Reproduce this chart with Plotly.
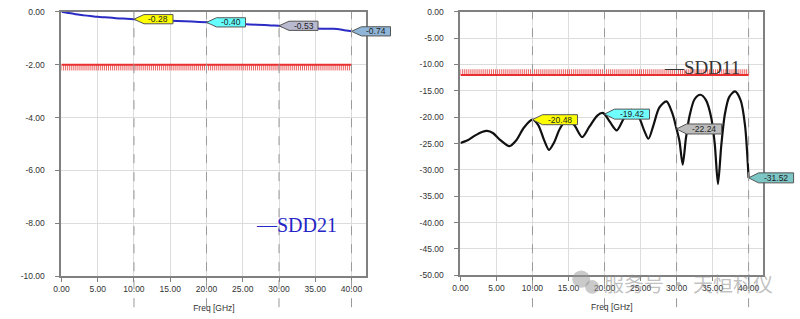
import plotly.graph_objects as go

# ---------------- data ----------------
freq21 = [0, 1, 2, 3, 4, 5, 6, 7, 8, 9, 10, 12, 14, 16, 18, 20, 22, 24, 26, 28, 29, 30, 31, 32, 34, 36, 37.5, 38.5, 39.3, 40]
sdd21 = [0.0, -0.05, -0.09, -0.13, -0.16, -0.19, -0.21, -0.23, -0.25, -0.265, -0.28, -0.31, -0.33, -0.35, -0.37, -0.40,
         -0.42, -0.45, -0.48, -0.50, -0.52, -0.53, -0.58, -0.61, -0.63, -0.64, -0.645, -0.67, -0.71, -0.74]

freq11 = [0, 1, 2, 3, 3.7, 4.5, 5.5, 6.8, 7.8, 8.8, 10.0, 10.8, 11.6, 12.3, 13.0, 13.8, 14.8, 15.8, 16.9, 17.9,
          19.0, 19.7, 20.0, 20.8, 21.7, 22.7, 23.7, 24.7, 25.5, 26.1, 26.8, 27.6, 28.6, 29.4, 30.0, 30.4, 30.85,
          31.3, 31.8, 32.5, 33.3, 34.1, 34.8, 35.3, 35.75, 36.2, 36.7, 37.3, 38.1, 38.9, 39.5, 40.0]
sdd11 = [-24.9, -24.4, -23.5, -22.8, -22.6, -23.0, -24.3, -25.5, -24.3, -22.0, -20.48, -21.5, -24.3, -26.2, -24.8,
         -22.2, -20.4, -21.5, -23.8, -21.8, -19.7, -19.2, -19.42, -21.0, -22.5, -20.2, -18.6, -19.8, -22.5, -24.1,
         -21.5, -18.2, -17.0, -19.2, -22.24, -24.5, -29.0, -24.0, -19.8, -16.6, -15.75, -16.8, -20.0, -25.0, -32.7,
         -25.5, -19.5, -16.2, -15.1, -16.8, -21.5, -31.52]

mk_freq = [10, 20, 30, 40]
mk21 = [-0.28, -0.40, -0.53, -0.74]
mk11 = [-20.48, -19.42, -22.24, -31.52]
mk21_colors = ['#ffff00', '#66ffff', '#b9b9cf', '#8fb6d8']
mk11_colors = ['#ffff00', '#70ffff', '#bcbcbc', '#7cc6c6']

limit_freq = [0, 40]
limit21 = -2.0
limit11 = -12.0
hatch_step = 0.27

x_range = [0, 42.05]
y21_range = [-10, 0]
y11_range = [-50, 0]
x_ticks = [0, 5, 10, 15, 20, 25, 30, 35, 40]
x_ticktext = ['0.00', '5.00', '10.00', '15.00', '20.00', '25.00', '30.00', '35.00', '40.00']
y21_ticks = [0, -2, -4, -6, -8, -10]
y21_ticktext = ['0.00', '-2.00', '-4.00', '-6.00', '-8.00', '-10.00']
y11_ticks = [0, -5, -10, -15, -20, -25, -30, -35, -40, -45, -50]
y11_ticktext = ['0.00', '-5.00', '-10.00', '-15.00', '-20.00', '-25.00', '-30.00', '-35.00', '-40.00', '-45.00', '-50.00']

W, H = 800, 319
fig = go.Figure()

# ---------------- limit masks with hatch ----------------
def hatch(x0, x1, y0, y1):
    xs, ys = [], []
    n = int(round((x1 - x0) / hatch_step))
    for i in range(n + 1):
        xv = x0 + i * (x1 - x0) / n
        xs += [xv, xv, None]
        ys += [y0, y1, None]
    return xs, ys

hx, hy = hatch(limit_freq[0], limit_freq[1], limit21, limit21 - 0.22)
fig.add_trace(go.Scatter(x=hx, y=hy, mode='lines', line=dict(color='rgba(230,50,50,0.75)', width=1),
                         xaxis='x', yaxis='y', hoverinfo='skip', showlegend=False))
fig.add_trace(go.Scatter(x=limit_freq, y=[limit21, limit21], mode='lines', line=dict(color='#e83030', width=2),
                         xaxis='x', yaxis='y', showlegend=False))
hx, hy = hatch(limit_freq[0], limit_freq[1], limit11, limit11 + 1.1)
fig.add_trace(go.Scatter(x=hx, y=hy, mode='lines', line=dict(color='rgba(230,50,50,0.75)', width=1),
                         xaxis='x2', yaxis='y2', hoverinfo='skip', showlegend=False))
fig.add_trace(go.Scatter(x=limit_freq, y=[limit11, limit11], mode='lines', line=dict(color='#e83030', width=2),
                         xaxis='x2', yaxis='y2', showlegend=False))

# ---------------- curves ----------------
fig.add_trace(go.Scatter(x=freq21, y=sdd21, mode='lines', line=dict(color='#2a2ac4', width=2, shape='spline', smoothing=0.6),
                         xaxis='x', yaxis='y', showlegend=False))
fig.add_trace(go.Scatter(x=freq11, y=sdd11, mode='lines', line=dict(color='#111111', width=2.2, shape='spline', smoothing=0.8),
                         xaxis='x2', yaxis='y2', showlegend=False))

# ---------------- marker tags ----------------
shapes = []
annotations = []

def tag(axname, xv, yv, yr, label, color, bw, hh, fs):
    path = f"M0,0 L10,{hh} L{10 + bw},{hh} L{10 + bw},{-hh} L10,{-hh} Z"
    shapes.append(dict(type='path', xref=f'{axname[0]} domain', yref=f'{axname[1]} domain',
                       xsizemode='pixel', ysizemode='pixel',
                       xanchor=(xv - x_range[0]) / (x_range[1] - x_range[0]),
                       yanchor=(yv - yr[0]) / (yr[1] - yr[0]),
                       path=path, fillcolor=color,
                       line=dict(color='#555555', width=1), layer='above'))
    annotations.append(dict(x=xv, y=yv, xref=axname[0], yref=axname[1], text=label, showarrow=False,
                            xanchor='center', yanchor='middle', xshift=10 + bw / 2, yshift=0,
                            font=dict(family='Liberation Sans, Arial', size=fs, color='#222222')))

for f, v, c in zip(mk_freq, mk21, mk21_colors):
    tag(('x', 'y'), f, v, y21_range, f"{v:.2f}", c, 29, 4.6, 8.5)
for f, v, c in zip(mk_freq, mk11, mk11_colors):
    tag(('x2', 'y2'), f, v, y11_range, f"{v:.2f}", c, 35, 5, 8.5)

# dashed marker lines
for f in mk_freq:
    for xr in ('x', 'x2'):
        shapes.append(dict(type='line', xref=xr, yref='paper', x0=f, x1=f, y0=0.022, y1=0.978,
                           line=dict(color='#9a9a9a', width=1, dash='dash'), layer='above'))

# legend-like labels
annotations.append(dict(x=26.6, y=-8.05, xref='x', yref='y', text='—SDD21', showarrow=False,
                        xanchor='left', yanchor='middle',
                        font=dict(family='Liberation Serif', size=20, color='#2626c8')))
annotations.append(dict(x=28.0, y=-10.5, xref='x2', yref='y2', text='—SDD11', showarrow=False,
                        xanchor='left', yanchor='middle',
                        font=dict(family='Liberation Serif', size=19, color='#333333')))

# watermark
annotations.append(dict(x=600 / W, y=1 - 288 / H, xref='paper', yref='paper', text='服务号 · 天恒科仪',
                        showarrow=False, xanchor='left', yanchor='middle',
                        font=dict(family='Noto Sans CJK SC', size=20, color='rgba(140,140,140,0.55)')))
for cx, cy, r in [(579, 283, 9), (590, 291, 7)]:
    shapes.append(dict(type='circle', xref='paper', yref='paper', x0=(cx - r) / W, x1=(cx + r) / W,
                       y0=1 - (cy + r) / H, y1=1 - (cy - r) / H, fillcolor='rgba(150,150,150,0.5)',
                       line=dict(width=0), layer='above'))

axis_common = dict(showline=True, linecolor='#808080', linewidth=2, mirror=True, ticks='outside', ticklen=4,
                   tickcolor='#808080', showgrid=True, gridcolor='#dcdcdc', gridwidth=1, zeroline=False,
                   tickfont=dict(family='Liberation Sans, Arial', size=8.5, color='#333333'))
title_font = dict(family='Liberation Sans, Arial', size=8.5, color='#333')

fig.update_layout(
    width=W, height=H, margin=dict(l=0, r=0, t=0, b=0),
    paper_bgcolor='white', plot_bgcolor='white',
    xaxis=dict(domain=[54 / W, 362 / W], range=x_range, tickvals=x_ticks, ticktext=x_ticktext,
               title=dict(text='Freq [GHz]', font=title_font, standoff=12),
               anchor='y', **axis_common),
    yaxis=dict(domain=[1 - 280 / H, 1 - 7 / H], range=y21_range, tickvals=y21_ticks, ticktext=y21_ticktext,
               anchor='x', ticklabelstandoff=9, **axis_common),
    xaxis2=dict(domain=[457 / W, 763 / W], range=x_range, tickvals=x_ticks, ticktext=x_ticktext,
                title=dict(text='Freq [GHz]', font=title_font, standoff=12),
                anchor='y2', **axis_common),
    yaxis2=dict(domain=[1 - 279 / H, 1 - 7 / H], range=y11_range, tickvals=y11_ticks, ticktext=y11_ticktext,
                anchor='x2', ticklabelstandoff=9, **axis_common),
    shapes=shapes, annotations=annotations, showlegend=False,
)

fig.write_html("out.html")
